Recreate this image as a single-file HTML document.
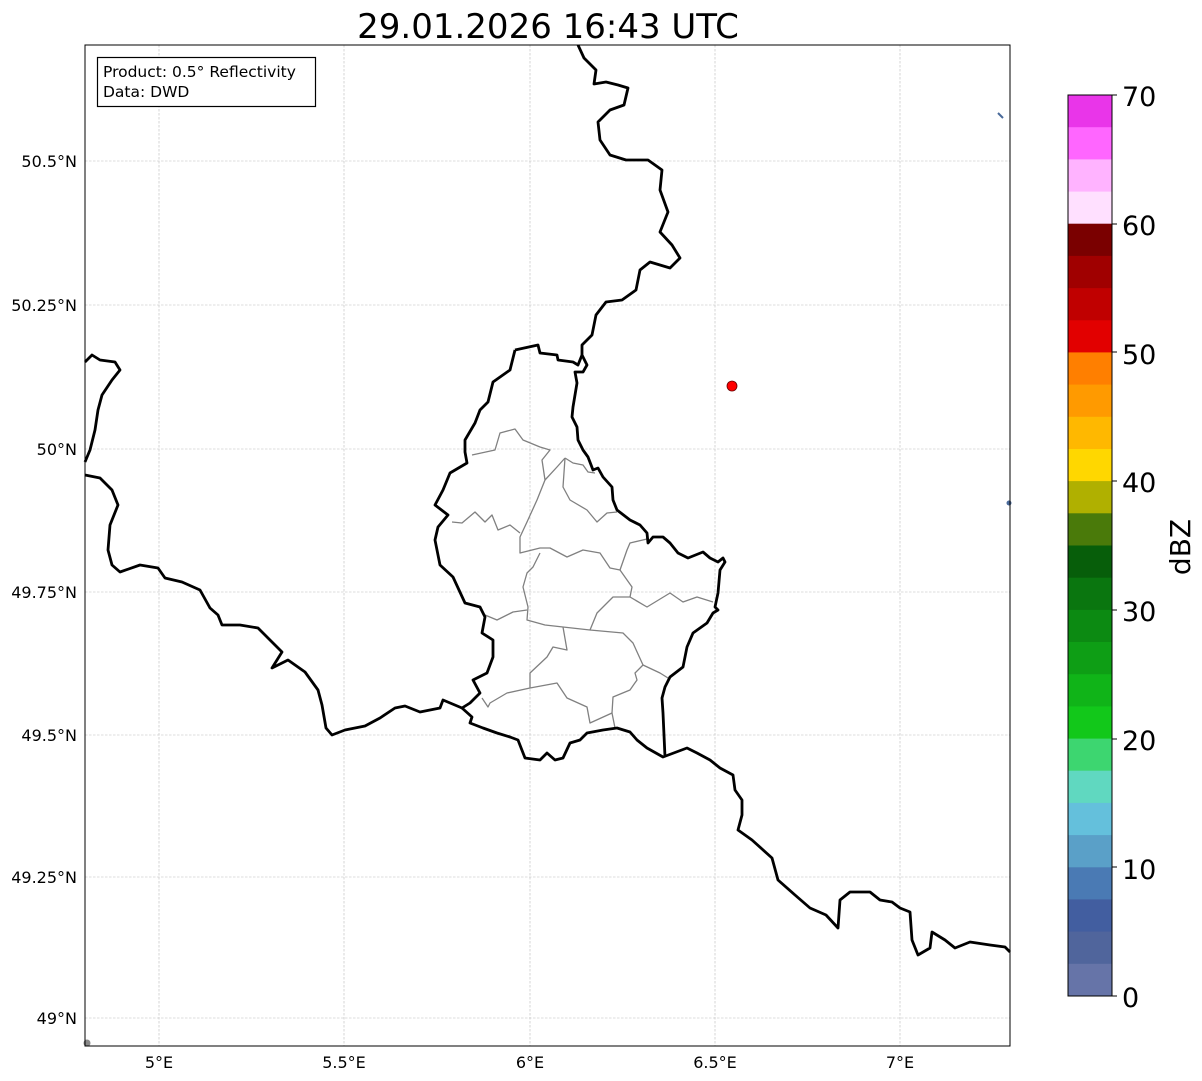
<!DOCTYPE html>
<html><head><meta charset="utf-8"><style>
html,body{margin:0;padding:0;background:#fff;}
svg{display:block;font-family:"DejaVu Sans","Liberation Sans",sans-serif;}
</style></head><body>
<svg width="1202" height="1081" viewBox="0 0 1202 1081" xmlns="http://www.w3.org/2000/svg">
<rect width="1202" height="1081" fill="#fff"/>
<text x="548" y="38" font-size="34" text-anchor="middle">29.01.2026 16:43 UTC</text>
<!-- grid -->
<g stroke="#bbbbbb" stroke-width="0.6" stroke-dasharray="2.5,1.5">
<line x1="159" y1="45" x2="159" y2="1046"/><line x1="344" y1="45" x2="344" y2="1046"/>
<line x1="530" y1="45" x2="530" y2="1046"/><line x1="715" y1="45" x2="715" y2="1046"/>
<line x1="900" y1="45" x2="900" y2="1046"/>
<line x1="85" y1="161" x2="1010" y2="161"/><line x1="85" y1="305" x2="1010" y2="305"/>
<line x1="85" y1="449" x2="1010" y2="449"/><line x1="85" y1="592" x2="1010" y2="592"/>
<line x1="85" y1="735" x2="1010" y2="735"/><line x1="85" y1="877" x2="1010" y2="877"/>
<line x1="85" y1="1018" x2="1010" y2="1018"/>
</g>
<!-- gray districts -->
<g fill="none" stroke="#808080" stroke-width="1.3" stroke-linejoin="round">
<polyline points="472,455 495,450 500,433 515,429 523,440 540,447 550,450 542,460 545,480 537,500 527,522 520,537 520,553 540,548 550,548 567,557 583,550 600,553 610,568 620,570 632,587 630,597"/>
<polyline points="452,522 462,523 475,512 485,522 492,515 498,530 510,525 520,533"/>
<polyline points="565,458 557,467 545,480"/>
<polyline points="565,458 563,487 570,500 587,510 597,522 607,513 617,512"/>
<polyline points="565,458 573,463 583,465 588,472 595,473"/>
<polyline points="620,570 627,550 630,543 647,539"/>
<polyline points="540,553 533,567 527,573 523,587 528,607 527,620 545,625 563,627 590,630 597,613 613,597 630,597 647,607 670,593 683,602 697,597 713,602"/>
<polyline points="485,615 497,620 513,612 527,610"/>
<polyline points="563,627 567,650 553,647 547,657 530,673 530,688 507,693 490,703 488,707 482,698"/>
<polyline points="530,688 557,683 567,698 587,707 590,723 612,713 615,728"/>
<polyline points="612,713 613,697 630,690 637,680 635,673 643,665 660,673 668,678"/>
<polyline points="590,630 623,633 633,643 643,665"/>
</g>
<!-- thick borders -->
<g fill="none" stroke="#000" stroke-width="2.8" stroke-linejoin="round">
<polyline points="578,45 584,58 596,70 594,84 606,82 618,85 628,88 624,105 610,110 598,122 600,140 610,155 626,160 648,160 662,170 660,190 668,212 660,232 672,245 680,258 670,268 650,262 640,270 636,290 622,300 606,302 596,315 592,335 582,345 582,355 587,365 583,372 575,372 577,383 573,407 572,417 577,427 578,440 583,450 588,457 593,470 598,468 603,477 612,487 613,500 617,510 630,520 640,525 647,533 648,543 653,537 663,537 670,543 678,553 688,558 703,552 710,558 718,562 723,558 725,562 720,570 718,593 715,607 718,610 713,613 707,623 693,633 687,647 683,667 670,677 665,687 662,698 663,713 665,757"/>
<polyline points="515,350 538,345 540,353 557,355 558,360 573,362 578,365 582,355"/>
<polyline points="515,350 510,370 493,382 488,402 480,410 475,423 465,440 465,452 467,463 450,473 443,490 435,505 448,515 438,527 435,540 437,550 440,565 453,577 465,603 480,607 485,617 482,633 493,640 493,657 487,673 473,680 480,693 470,703 462,708 472,717 470,723 483,728 497,733 510,737 518,740 525,758 540,760 547,753 555,760 563,758 570,743 580,740 587,733 603,730 617,728 630,732 637,740 647,748 663,757 687,748 697,753 710,760 720,768 733,775 735,790 742,800 742,815 738,830 752,840 772,858 778,880 795,895 810,908 826,915 838,928 840,900 850,892 870,892 880,900 892,902 900,908 910,912 912,940 918,955 930,948 932,932 945,940 955,948 970,942 990,945 1005,947 1010,952"/>
<polyline points="85,475 100,478 112,490 118,505 110,525 108,550 112,565 120,572 140,565 158,568 165,578 182,582 200,590 210,608 218,615 222,625 240,625 258,628 275,645 282,652 272,668 288,660 305,672 318,690 322,705 326,728 332,735 345,730 365,726 380,718 395,708 405,706 420,712 440,708 443,700 462,708"/>
<polyline points="85,362 92,355 100,360 115,362 120,370 112,380 102,395 98,410 95,430 90,450 85,462"/>
</g>
<circle cx="732" cy="386" r="5" fill="#f00" stroke="#600" stroke-width="0.8"/>
<line x1="998" y1="113" x2="1003" y2="118" stroke="#4a6a9a" stroke-width="2"/>
<circle cx="1009" cy="503" r="2.5" fill="#4a6a9a"/>
<circle cx="87" cy="1043" r="3.5" fill="#888"/>
<rect x="85" y="45" width="925" height="1001" fill="none" stroke="#000" stroke-width="1"/>
<!-- info box -->
<rect x="97.5" y="57.5" width="218" height="49" fill="#fff" stroke="#000" stroke-width="1.2"/>
<text x="103" y="77" font-size="15.5">Product: 0.5° Reflectivity</text>
<text x="103" y="97" font-size="15.5">Data: DWD</text>
<!-- tick labels -->
<g font-size="16" text-anchor="end">
<text x="77" y="167">50.5°N</text><text x="77" y="311">50.25°N</text><text x="77" y="455">50°N</text>
<text x="77" y="598">49.75°N</text><text x="77" y="741">49.5°N</text><text x="77" y="883">49.25°N</text>
<text x="77" y="1024">49°N</text>
</g>
<g font-size="16" text-anchor="middle">
<text x="159" y="1068">5°E</text><text x="344" y="1068">5.5°E</text><text x="530" y="1068">6°E</text>
<text x="715" y="1068">6.5°E</text><text x="900" y="1068">7°E</text>
</g>
<!-- colorbar -->
<g>
<rect x="1068" y="95.0" width="44" height="32.7" fill="#e935e9"/>
<rect x="1068" y="127.2" width="44" height="32.7" fill="#ff66ff"/>
<rect x="1068" y="159.4" width="44" height="32.7" fill="#ffb3ff"/>
<rect x="1068" y="191.6" width="44" height="32.7" fill="#ffe0ff"/>
<rect x="1068" y="223.7" width="44" height="32.7" fill="#7a0000"/>
<rect x="1068" y="255.9" width="44" height="32.7" fill="#a00000"/>
<rect x="1068" y="288.1" width="44" height="32.7" fill="#c00000"/>
<rect x="1068" y="320.3" width="44" height="32.7" fill="#e20000"/>
<rect x="1068" y="352.4" width="44" height="32.7" fill="#ff7f00"/>
<rect x="1068" y="384.6" width="44" height="32.7" fill="#ff9a00"/>
<rect x="1068" y="416.8" width="44" height="32.7" fill="#ffb800"/>
<rect x="1068" y="449.0" width="44" height="32.7" fill="#ffd700"/>
<rect x="1068" y="481.1" width="44" height="32.7" fill="#b0b000"/>
<rect x="1068" y="513.3" width="44" height="32.7" fill="#4a7a0a"/>
<rect x="1068" y="545.5" width="44" height="32.7" fill="#075e0a"/>
<rect x="1068" y="577.7" width="44" height="32.7" fill="#0a760f"/>
<rect x="1068" y="609.9" width="44" height="32.7" fill="#0c8a12"/>
<rect x="1068" y="642.0" width="44" height="32.7" fill="#0e9e15"/>
<rect x="1068" y="674.2" width="44" height="32.7" fill="#10b418"/>
<rect x="1068" y="706.4" width="44" height="32.7" fill="#12c81a"/>
<rect x="1068" y="738.6" width="44" height="32.7" fill="#3dd670"/>
<rect x="1068" y="770.7" width="44" height="32.7" fill="#60d8c0"/>
<rect x="1068" y="802.9" width="44" height="32.7" fill="#64c0dc"/>
<rect x="1068" y="835.1" width="44" height="32.7" fill="#5aa0c8"/>
<rect x="1068" y="867.3" width="44" height="32.7" fill="#4a7ab4"/>
<rect x="1068" y="899.4" width="44" height="32.7" fill="#425ea0"/>
<rect x="1068" y="931.6" width="44" height="32.7" fill="#50659c"/>
<rect x="1068" y="963.8" width="44" height="32.2" fill="#6674a8"/>
<rect x="1068" y="95" width="44" height="901" fill="none" stroke="#000" stroke-width="1"/>
</g>
<g font-size="27">
<text x="1122" y="106">70</text><text x="1122" y="235">60</text><text x="1122" y="364">50</text>
<text x="1122" y="492">40</text><text x="1122" y="621">30</text><text x="1122" y="750">20</text>
<text x="1122" y="879">10</text><text x="1122" y="1007">0</text>
</g>
<g stroke="#000" stroke-width="1">
<line x1="1112" y1="95" x2="1117" y2="95"/><line x1="1112" y1="224" x2="1117" y2="224"/>
<line x1="1112" y1="352" x2="1117" y2="352"/><line x1="1112" y1="481" x2="1117" y2="481"/>
<line x1="1112" y1="610" x2="1117" y2="610"/><line x1="1112" y1="739" x2="1117" y2="739"/>
<line x1="1112" y1="867" x2="1117" y2="867"/><line x1="1112" y1="996" x2="1117" y2="996"/>
</g>
<text transform="translate(1190,547) rotate(-90)" font-size="28" text-anchor="middle">dBZ</text>
</svg>
</body></html>
